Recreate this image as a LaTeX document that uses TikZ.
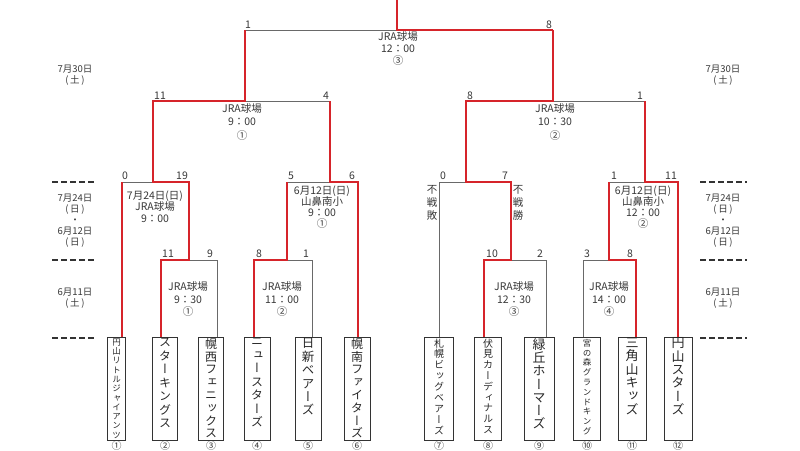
\documentclass[tikz,border=0pt]{standalone}
\usepackage{fontspec}
\setmainfont{Noto Sans CJK JP}
\newfontfamily\vjp[RawFeature=+vert]{Noto Sans CJK JP}
\newcommand\vsz[2]{\vjp\fontsize{#1}{#2}\selectfont}
\definecolor{wred}{RGB}{214,36,42}
\definecolor{lgray}{RGB}{105,105,105}
\definecolor{tgray}{RGB}{55,55,55}
\tikzset{
  win/.style={draw=wred, line width=2.3pt},
  lose/.style={draw=lgray, line width=0.8pt},
  score/.style={font=\fontsize{10.5}{11}\selectfont, text=tgray, inner sep=0pt, anchor=south},
  info/.style={font=\fontsize{10.5}{#1}\selectfont, text=tgray, align=center, inner sep=0pt},
  info/.default=12,
  datetext/.style={font=\fontsize{9.5}{11}\selectfont, text=tgray, align=center, inner sep=0pt},
  teambox/.style={draw=black!80, line width=0.7pt, minimum width=#1, minimum height=103pt, anchor=north, inner sep=0pt},
  vname/.style={text=black!85, align=center, inner sep=0pt, anchor=north},
  num/.style={font=\fontsize{10}{10}\selectfont, text=tgray, inner sep=0pt, anchor=north},
  datedash/.style={draw=black!80, line width=1.6pt, dash pattern=on 6pt off 3pt}
}
\begin{document}
\begin{tikzpicture}[x=1pt,y=-1pt]
\useasboundingbox (0,0) rectangle (800,450);
% team boxes
\node[teambox=18pt] (b1) at (116.5,337) {};
\node[teambox=25pt] (b2) at (165,337) {};
\node[teambox=25pt] (b3) at (211,337) {};
\node[teambox=26pt] (b4) at (257,337) {};
\node[teambox=26pt] (b5) at (308,337) {};
\node[teambox=26pt] (b6) at (357,337) {};
\node[teambox=29pt] (b7) at (439,337) {};
\node[teambox=27pt] (b8) at (488,337) {};
\node[teambox=30pt] (b9) at (539,337) {};
\node[teambox=27pt] (b10) at (587,337) {};
\node[teambox=28pt] (b11) at (632,337) {};
\node[teambox=28pt] (b12) at (678,337) {};
% team names
\node[vname, font=\vsz{8.5}{9.3}] (t1) at (116.5,338.5) {円\\山\\リ\\ト\\ル\\ジ\\ャ\\イ\\ア\\ン\\ツ};
\node[vname, font=\vsz{12}{13.5}] (t2) at (165,338) {ス\\タ\\ー\\キ\\ン\\グ\\ス};
\node[vname, font=\vsz{12}{12.8}] (t3) at (211,338) {幌\\西\\フ\\ェ\\ニ\\ッ\\ク\\ス};
\node[vname, font=\vsz{12}{13.5}] (t4) at (257,338) {ニ\\ュ\\ー\\ス\\タ\\ー\\ズ};
\node[vname, font=\vsz{12.5}{13.4}] (t5) at (308,338) {日\\新\\ベ\\ア\\ー\\ズ};
\node[vname, font=\vsz{12}{12.8}] (t6) at (357,338) {幌\\南\\フ\\ァ\\イ\\タ\\ー\\ズ};
\node[vname, font=\vsz{10}{10.9}] (t7) at (439,338.5) {札\\幌\\ビ\\ッ\\グ\\ベ\\ア\\ー\\ズ};
\node[vname, font=\vsz{10}{10.8}] (t8) at (488,338.5) {伏\\見\\カ\\ー\\デ\\ィ\\ナ\\ル\\ス};
\node[vname, font=\vsz{13}{13.3}] (t9) at (539,338) {緑\\丘\\ホ\\ー\\マ\\ー\\ズ};
\node[vname, font=\vsz{8.5}{9.8}] (t10) at (587,339) {宮\\の\\森\\グ\\ラ\\ン\\ド\\キ\\ン\\グ};
\node[vname, font=\vsz{13}{13.4}] (t11) at (632,337.5) {三\\角\\山\\キ\\ッ\\ズ};
\node[vname, font=\vsz{13}{13.4}] (t12) at (678,337.5) {円\\山\\ス\\タ\\ー\\ズ};
% circled numbers
\node[num] (n1) at (116.5,440.5) {①};
\node[num] (n2) at (165,440.5) {②};
\node[num] (n3) at (211,440.5) {③};
\node[num] (n4) at (257,440.5) {④};
\node[num] (n5) at (308,440.5) {⑤};
\node[num] (n6) at (357,440.5) {⑥};
\node[num] (n7) at (439,440.5) {⑦};
\node[num] (n8) at (488,440.5) {⑧};
\node[num] (n9) at (539,440.5) {⑨};
\node[num] (n10) at (587,440.5) {⑩};
\node[num] (n11) at (632,440.5) {⑪};
\node[num] (n12) at (678,440.5) {⑫};
% junctions
\coordinate (top) at (397,0);
\coordinate (F) at (397,30);
\coordinate (FL) at (245,30);
\coordinate (FR) at (553,30);
\coordinate (SL) at (245,101); \coordinate (SLa) at (153,101); \coordinate (SLb) at (330,101);
\coordinate (SR) at (553,101); \coordinate (SRa) at (466,101); \coordinate (SRb) at (645,101);
\coordinate (Q1) at (153,182); \coordinate (Q1a) at (122,182); \coordinate (Q1b) at (189,182);
\coordinate (Q2) at (330,182); \coordinate (Q2a) at (287,182); \coordinate (Q2b) at (358,182);
\coordinate (Q3) at (466,182); \coordinate (Q3a) at (439,182); \coordinate (Q3b) at (511,182);
\coordinate (Q4) at (645,182); \coordinate (Q4a) at (609,182); \coordinate (Q4b) at (678,182);
\coordinate (R1) at (189,260); \coordinate (R1a) at (161,260); \coordinate (R1b) at (217,260);
\coordinate (R2) at (287,260); \coordinate (R2a) at (254,260); \coordinate (R2b) at (312,260);
\coordinate (R3) at (511,260); \coordinate (R3a) at (484,260); \coordinate (R3b) at (546,260);
\coordinate (R4) at (609,260); \coordinate (R4a) at (583,260); \coordinate (R4b) at (636,260);
% losing (gray) lines
\draw[lose] (FL) -- (F);
\draw[lose] (SL) -- (SLb);
\draw[lose] (SR) -- (SRb);
\draw[lose] (Q1a) -- (Q1);
\draw[lose] (Q2a) -- (Q2);
\draw[lose] (Q3a) -- (Q3);
\draw[lose] (Q4a) -- (Q4);
\draw[lose] (R1) -- (R1b) -- (R1b |- b3.north);
\draw[lose] (R2) -- (R2b) -- (R2b |- b5.north);
\draw[lose] (Q3a) -- (Q3a |- b7.north);
\draw[lose] (R3) -- (R3b) -- (R3b |- b9.north);
\draw[lose] (R4) -- (R4a) -- (R4a |- b10.north);
% winning (red) lines
\draw[win] (top) -- (F) -- (FR);
\draw[win] (FL) -- (SL) -- (SLa) -- (Q1) -- (Q1b) -- (R1) -- (R1a) -- (R1a |- b2.north);
\draw[win] (Q1a) -- (Q1a |- b1.north);
\draw[win] (SLb) -- (Q2) -- (Q2b) -- (Q2b |- b6.north);
\draw[win] (Q2a) -- (R2) -- (R2a) -- (R2a |- b4.north);
\draw[win] (FR) -- (SR) -- (SRa) -- (Q3) -- (Q3b) -- (R3) -- (R3a) -- (R3a |- b8.north);
\draw[win] (SRb) -- (Q4) -- (Q4b) -- (Q4b |- b12.north);
\draw[win] (Q4a) -- (R4) -- (R4b) -- (R4b |- b11.north);
% scores
\node[score] (s1) at (248,29) {1};
\node[score] (s2) at (549,29) {8};
\node[score] (s3) at (160,100) {11};
\node[score] (s4) at (326,100) {4};
\node[score] (s5) at (470,100) {8};
\node[score] (s6) at (640,100) {1};
\node[score] (s7) at (125,180) {0};
\node[score] (s8) at (182,180) {19};
\node[score] (s9) at (291,180) {5};
\node[score] (s10) at (352,180) {6};
\node[score] (s11) at (443,180) {0};
\node[score] (s12) at (505,180) {7};
\node[score] (s13) at (614,180) {1};
\node[score] (s14) at (671,180) {11};
\node[score] (s15) at (168,258) {11};
\node[score] (s16) at (210,258) {9};
\node[score] (s17) at (259,258) {8};
\node[score] (s18) at (306,258) {1};
\node[score] (s19) at (492,258) {10};
\node[score] (s20) at (540,258) {2};
\node[score] (s21) at (587,258) {3};
\node[score] (s22) at (630,258) {8};
% match info
\node[info=12] (i1) at (398,49) {JRA球場\\12：00\\③};
\node[info=13.5] (i2) at (242,122) {JRA球場\\9：00\\①};
\node[info=13.5] (i3) at (555,122) {JRA球場\\10：30\\②};
\node[info=11.5] (i4) at (155,206.5) {7月24日(日)\\JRA球場\\9：00};
\node[info=11] (i5) at (322,207.5) {6月12日(日)\\山鼻南小\\9：00\\①};
\node[info=11] (i6) at (643,207.5) {6月12日(日)\\山鼻南小\\12：00\\②};
\node[info=12.5] (i7) at (188,299.5) {JRA球場\\9：30\\①};
\node[info=12.5] (i8) at (282,299.5) {JRA球場\\11：00\\②};
\node[info=12.5] (i9) at (514,299.5) {JRA球場\\12：30\\③};
\node[info=12.5] (i10) at (609,299.5) {JRA球場\\14：00\\④};
\node[info=13] (w1) at (432,203) {不\\戦\\敗};
\node[info=13] (w2) at (518,203) {不\\戦\\勝};
% dates
\node[datetext] (d1) at (75,75) {7月30日\\(\,土\,)};
\node[datetext] (d2) at (75,221) {7月24日\\(\,日\,)\\・\\6月12日\\(\,日\,)};
\node[datetext] (d3) at (75,298.5) {6月11日\\(\,土\,)};
\node[datetext] (d4) at (723,75) {7月30日\\(\,土\,)};
\node[datetext] (d5) at (723,221) {7月24日\\(\,日\,)\\・\\6月12日\\(\,日\,)};
\node[datetext] (d6) at (723,298.5) {6月11日\\(\,土\,)};
% dashed separators
\foreach \yy in {182,260,338} {
  \draw[datedash] (52,\yy) -- (97,\yy);
  \draw[datedash] (700,\yy) -- (747,\yy);
}
\end{tikzpicture}
\end{document}
